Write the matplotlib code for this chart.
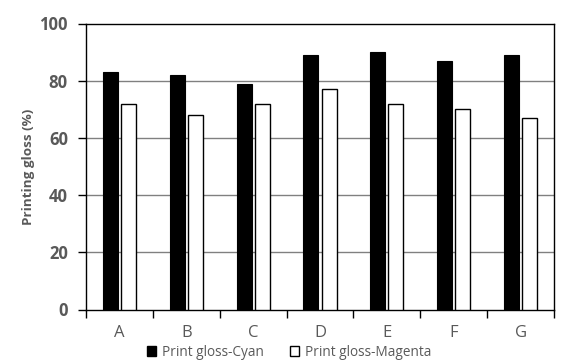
import matplotlib
matplotlib.use("Agg")
import matplotlib.pyplot as plt
import numpy as np
from matplotlib.patches import Patch

categories = ["A", "B", "C", "D", "E", "F", "G"]
cyan = [83, 82, 79, 89, 90, 87, 89]
magenta = [72, 68, 72, 77, 72, 70, 67]
yticks = [0, 20, 40, 60, 80, 100]

plt.rcParams['font.family'] = ['Open Sans', 'DejaVu Sans']

fig = plt.figure(figsize=(5.72, 3.61), dpi=100)
ax = fig.add_axes([86/572, 1-309.5/361, 468/572, 286/361])

x = np.arange(len(categories))
w = 0.225
gap = 0.045
ax.bar(x - (w+gap)/2, cyan, width=w, color='black', edgecolor='black', linewidth=0.8, zorder=3,
       label='Print gloss-Cyan')
ax.bar(x + (w+gap)/2, magenta, width=w, color='white', edgecolor='black', linewidth=1.0, zorder=3,
       label='Print gloss-Magenta')

ax.set_xlim(-0.5, len(categories)-0.5)
ax.set_ylim(0, 100)
ax.set_yticks(yticks)
ax.set_yticklabels([str(v) for v in yticks], fontsize=12, fontweight='bold', color='#595959')
ax.set_xticks(x)
ax.set_xticklabels(categories, fontsize=12, color='#595959')
ax.set_xticks(np.arange(len(categories)+1) - 0.5, minor=True)
ax.tick_params(axis='x', which='major', length=0, pad=11)
ax.tick_params(axis='x', which='minor', length=6, width=1, color='black')
ax.tick_params(axis='y', length=6, width=1, color='black', pad=7)
for y in yticks[1:-1]:
    ax.axhline(y, color='#808080', linewidth=1, zorder=1)
for s in ax.spines.values():
    s.set_color('black')
    s.set_linewidth(1)

ax.set_ylabel('Printing gloss (%)', fontsize=9.7, fontweight='bold', color='#595959', labelpad=3)

handles = [Patch(facecolor='black', edgecolor='black'), Patch(facecolor='white', edgecolor='black')]
fig.legend(handles, ['Print gloss-Cyan', 'Print gloss-Magenta'], loc='center', bbox_to_anchor=(289/572, 1-352/361),
           ncol=2, frameon=False, fontsize=9.8, labelcolor='#595959', handlelength=0.7, handleheight=0.7,
           handletextpad=0.4, columnspacing=1.9)

fig.savefig('out.png', dpi=100)
